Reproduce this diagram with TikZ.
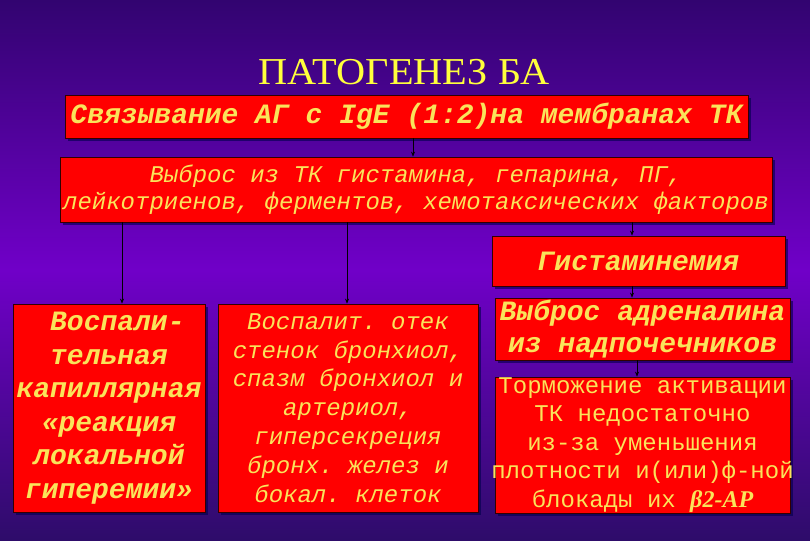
\documentclass[tikz,border=0pt]{standalone}
\usepackage{fontspec}
\setmainfont{Liberation Serif}
\newfontfamily\cour{Liberation Mono}
\usetikzlibrary{arrows.meta,shadows}
\definecolor{bgtop}{RGB}{50,4,112}
\definecolor{bgmid}{RGB}{112,0,200}
\definecolor{bgbot}{RGB}{46,12,106}
\definecolor{boxred}{RGB}{255,0,0}
\definecolor{txtyellow}{RGB}{250,228,90}
\definecolor{ttlyellow}{RGB}{255,255,60}
\newcommand\SP{\hspace*{0.6em}}
\begin{document}
\begin{tikzpicture}[x=1pt,y=-1pt,
  box/.style={draw=black!80!red, line width=0.8pt, fill=boxred, text=txtyellow,
    align=center, inner sep=0pt,
    drop shadow={shadow xshift=3pt, shadow yshift=-3pt, fill=black!70!blue, opacity=0.6}},
  arr/.style={-{Stealth[length=5pt,width=4pt]}, black, line width=0.6pt}]
\shade[top color=bgtop, bottom color=bgbot, middle color=bgmid] (0,0) rectangle (810,540);
\useasboundingbox (0,0) rectangle (810,540);

\node[text=ttlyellow, font=\fontsize{38}{40}\selectfont, inner sep=0pt, xscale=1.06] (title) at (404,72) {ПАТОГЕНЕЗ БА};

\node[box, font=\cour\bfseries\itshape\fontsize{28}{30}\selectfont, text width=683pt, minimum height=43pt] (b1) at (406.5,116.5)
  {\mbox{Связывание\SP АГ\SP с\SP IgE\SP (1:2)на\SP мембранах\SP ТК}};

\node[box, font=\cour\itshape\fontsize{24}{27}\selectfont, text width=712pt, minimum height=65pt] (b2) at (416,189.5)
  {\mbox{Выброс\SP из\SP ТК\SP гистамина,\SP гепарина,\SP ПГ,}\\\mbox{лейкотриенов,\SP ферментов,\SP хемотаксических\SP факторов}};

\node[box, font=\cour\bfseries\itshape\fontsize{28}{33}\selectfont, text width=293pt, minimum height=50pt] (b3) at (638.5,261)
  {Гистаминемия};

\node[box, font=\cour\bfseries\itshape\fontsize{28}{33.5}\selectfont, text width=192pt, minimum height=208pt] (b4) at (109,408)
  {\mbox{\SP Воспали-}\\тельная\\\mbox{капиллярная}\\«реакция\\локальной\\гиперемии»};

\node[box, font=\cour\itshape\fontsize{24}{28.8}\selectfont, text width=260pt, minimum height=208pt] (b5) at (348,408)
  {\mbox{Воспалит.\SP отек}\\\mbox{стенок\SP бронхиол,}\\\mbox{спазм\SP бронхиол\SP и}\\артериол,\\гиперсекреция\\\mbox{бронх.\SP желез\SP и}\\\mbox{бокал.\SP клеток}};

\node[box, font=\cour\bfseries\itshape\fontsize{28}{32}\selectfont, text width=295pt, minimum height=62pt] (b6) at (642.5,329)
  {\mbox{Выброс\SP адреналина}\\\mbox{из\SP надпочечников}};

\node[box, font=\cour\fontsize{24}{28.5}\selectfont, text width=295pt, minimum height=136pt] (b7) at (642.5,445)
  {\mbox{Торможение\SP активации}\\\mbox{ТК\SP недостаточно}\\\mbox{из-за\SP уменьшения}\\\makebox[0pt]{плотности\SP и(или)ф-ной}\\\mbox{блокады\SP их\SP {\rmfamily\bfseries\itshape β2-АР}}};

\coordinate (xa) at (413,0);
\coordinate (xb) at (122,0);
\coordinate (xc) at (347,0);
\coordinate (xd) at (632,0);
\coordinate (xe) at (637,0);

\draw[arr] (b1.south -| xa) -- (b2.north -| xa);
\draw[arr] (b2.south -| xb) -- (b4.north -| xb);
\draw[arr] (b2.south -| xc) -- (b5.north -| xc);
\draw[arr] (b2.south -| xd) -- (b3.north -| xd);
\draw[arr] (b3.south -| xd) -- (b6.north -| xd);
\draw[arr] (b6.south -| xe) -- (b7.north -| xe);
\end{tikzpicture}
\end{document}
